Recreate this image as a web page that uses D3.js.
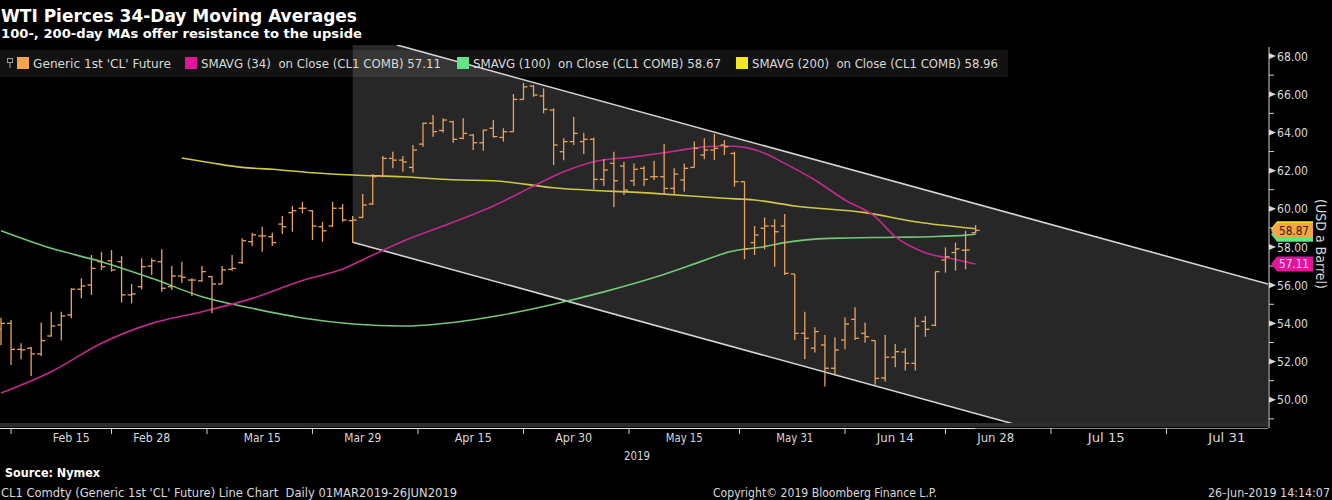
<!DOCTYPE html>
<html>
<head lang="en">
	<meta charset="UTF-8">
	<title>WTI Pierces 34-Day Moving Averages</title>
	<script src="https://d3js.org/d3.v7.min.js"></script>
	<style>
		body { margin: 0; background: #000; }
		svg text { font-family: "Liberation Sans Narrow", "DejaVu Sans Condensed", "Liberation Sans", sans-serif; white-space: pre; }
	</style>
</head>
<body>

<script>

	// trading days on the axis (exchange holidays dropped up to the last bar)
	var firstDay = "2019-02-06";
	var lastDay = "2019-08-06";
	var holidays = ["2019-02-18", "2019-04-19", "2019-05-27"];

	// CL1 daily bars, 06 Feb .. 26 Jun 2019
	var open = [53.70, 54.00, 52.64, 52.70, 52.40, 53.34, 53.92, 54.44, 55.79, 56.01,
		57.23, 57.28, 57.23, 55.49, 55.92, 57.00, 57.23, 55.92, 56.48, 56.27,
		56.23, 56.45, 56.06, 56.83, 57.18, 58.28, 58.58, 58.54, 59.20, 59.80,
		60.03, 59.90, 59.06, 59.10, 60.03, 59.38, 59.55, 60.25, 61.72, 62.64,
		62.55, 62.17, 63.39, 64.48, 64.10, 64.56, 63.69, 63.86, 63.46, 64.22,
		63.74, 64.04, 65.73, 66.43, 65.91, 65.17, 62.99, 63.52, 63.52, 63.64,
		61.54, 62.38, 62.24, 61.47, 62.12, 61.68, 61.68, 61.07, 61.51, 62.17,
		62.82, 63.08, 63.34, 62.90, 61.42, 58.23, 58.98, 59.10, 59.10, 56.59,
		53.48, 52.70, 52.87, 51.65, 53.13, 54.21, 53.48, 53.10, 51.14, 52.23,
		52.50, 51.91, 54.10, 53.90, 57.32, 57.71, 57.83, 58.75];
	var high = [54.30, 54.18, 52.96, 52.78, 54.04, 54.61, 54.61, 55.84, 56.36, 57.58,
		57.75, 57.84, 57.53, 56.06, 57.41, 57.41, 57.88, 57.00, 57.23, 56.36,
		57.00, 56.48, 57.00, 57.58, 58.46, 58.75, 59.06, 58.75, 59.62, 60.15,
		60.37, 59.94, 59.32, 60.37, 60.25, 59.62, 60.77, 61.82, 62.76, 62.99,
		62.76, 63.34, 64.51, 64.91, 64.74, 64.61, 64.74, 63.92, 64.16, 64.65,
		64.22, 66.01, 66.60, 66.48, 66.31, 65.26, 63.69, 64.82, 63.99, 63.74,
		62.59, 62.99, 62.47, 62.38, 62.24, 62.52, 63.39, 62.12, 62.38, 63.52,
		63.69, 63.92, 63.60, 62.99, 61.42, 59.10, 59.55, 59.45, 59.73, 56.59,
		54.61, 53.80, 53.39, 53.27, 54.32, 54.84, 54.04, 53.10, 53.39, 52.92,
		52.70, 54.32, 54.39, 56.71, 57.98, 58.23, 58.85, 59.15];
	var low = [52.87, 51.82, 52.12, 51.25, 52.29, 53.30, 53.10, 54.27, 55.31, 55.49,
		56.80, 56.71, 55.09, 55.05, 55.79, 56.54, 55.66, 55.75, 56.13, 55.43,
		56.18, 54.53, 56.06, 56.76, 57.11, 58.05, 57.75, 58.05, 58.68, 58.80,
		59.76, 58.37, 58.28, 59.06, 59.32, 58.22, 59.50, 60.20, 61.65, 62.12,
		61.94, 61.89, 63.25, 63.78, 64.00, 63.46, 63.64, 63.08, 63.04, 63.74,
		63.52, 64.04, 65.70, 65.87, 65.00, 62.29, 62.55, 63.34, 62.87, 61.02,
		61.19, 60.08, 60.72, 61.19, 61.19, 61.51, 60.72, 60.72, 60.90, 62.17,
		62.59, 62.55, 62.82, 61.16, 57.36, 57.58, 57.88, 56.97, 56.53, 53.13,
		52.12, 52.47, 50.69, 51.25, 52.64, 53.13, 52.99, 50.78, 50.95, 51.70,
		51.53, 51.53, 53.30, 53.85, 56.66, 56.76, 56.83, 58.70];
	var close = [54.00, 52.64, 52.61, 52.40, 53.10, 53.86, 54.39, 55.79, 55.96, 56.88,
		56.97, 56.80, 55.49, 55.54, 56.97, 57.28, 55.84, 56.48, 56.41, 56.27,
		56.71, 56.06, 56.80, 56.88, 58.33, 58.64, 58.58, 58.23, 59.06, 59.90,
		60.03, 59.10, 58.85, 60.03, 59.41, 59.41, 60.20, 61.68, 62.64, 62.55,
		62.45, 63.08, 64.48, 64.04, 64.65, 63.64, 63.95, 63.46, 64.12, 63.78,
		64.04, 65.73, 66.39, 65.96, 65.21, 63.34, 63.52, 63.95, 63.64, 61.54,
		62.03, 61.47, 60.98, 62.07, 61.54, 61.68, 61.07, 61.82, 62.12, 63.17,
		63.08, 63.17, 63.25, 61.42, 57.91, 58.63, 59.10, 58.80, 56.62, 53.48,
		53.22, 53.57, 51.65, 52.61, 53.97, 53.22, 53.30, 51.12, 52.23, 52.52,
		51.91, 53.86, 53.69, 56.71, 57.49, 57.90, 57.84, 58.87];

	// moving averages read at [bar index, price]
	var ma34 = [[0, 50.35], [5, 51.47], [10, 52.96], [15, 54.00], [20, 54.61], [25, 55.31],
		[30, 56.25], [34, 56.85], [37, 57.58], [40, 58.30], [44, 59.10], [49, 60.15],
		[53, 61.19], [56, 61.94], [59, 62.47], [63, 62.72], [66, 62.94], [68, 63.10],
		[70, 63.25], [72, 63.29], [74, 63.22], [76, 62.91], [78, 62.38], [81, 61.51],
		[84, 60.46], [87, 59.59], [89, 58.54], [92, 57.70], [95, 57.35], [97, 57.11]];
	var ma100 = [[0, 58.85], [5, 57.93], [10, 57.23], [15, 56.36], [20, 55.40], [25, 54.79],
		[30, 54.28], [35, 53.97], [40, 53.86], [45, 54.05], [50, 54.45], [55, 55.00],
		[60, 55.65], [65, 56.40], [70, 57.30], [72.5, 57.75], [76, 58.02], [78, 58.23],
		[82.5, 58.45], [89, 58.51], [92.5, 58.54], [96, 58.62], [97, 58.67]];
	var ma200 = [[18, 62.66], [21, 62.40], [24, 62.17], [27, 62.07], [31, 61.89], [35, 61.77],
		[40, 61.68], [45, 61.52], [49, 61.47], [55, 61.10], [65, 60.81], [72, 60.55],
		[75, 60.46], [79, 60.15], [86, 59.80], [91, 59.32], [97, 58.96]];

	// trend channel, [bar index, price]
	var channelUpper = [[39.4, 68.58], [126.1, 56.06]];
	var channelLower = [[35.0, 58.25], [100.8, 48.73]];

	var priceTicks = [50, 52, 54, 56, 58, 60, 62, 64, 66, 68];
	var dateTicks = ["2019-02-15", "2019-02-28", "2019-03-15", "2019-03-29", "2019-04-15", "2019-04-30",
		"2019-05-15", "2019-05-31", "2019-06-14", "2019-06-28", "2019-07-15", "2019-07-31"];
	var dateLabels = ["Feb 15", "Feb 28", "Mar 15", "Mar 29", "Apr 15", "Apr 30",
		"May 15", "May 31", "Jun 14", "Jun 28", "Jul 15", "Jul 31"];


	var W = 1332, H = 500;
	var plot = {left: 0, right: 1268, top: 45, bottom: 424};

	var COLORS = {
		bar: "#e8a35f",
		ma34: "#c02a8c",
		ma100: "#74c779",
		ma200: "#cfc64a",
		sq: ["#f7a348", "#e3149c", "#62e38c", "#f3e52a"],
		text: "#d9d9d9"
	};

	var fmtDay = d3.timeFormat("%Y-%m-%d"), parseDay = d3.timeParse("%Y-%m-%d");
	var days = d3.timeDay.range(parseDay(firstDay), d3.timeDay.offset(parseDay(lastDay), 1))
			.filter(function (d) { return d.getDay() > 0 && d.getDay() < 6; })
			.filter(function (d) { return holidays.indexOf(fmtDay(d)) < 0; });
	var dayIndex = {};
	days.forEach(function (d, i) { dayIndex[fmtDay(d)] = i; });

	var x = d3.scaleLinear().domain([-0.1, 126.1]).range([plot.left, plot.right]);
	var y = d3.scaleLinear().domain([48.73, 68.58]).range([plot.bottom, plot.top]);

	var svg = d3.select("body").append("svg")
			.attr("width", W).attr("height", H)
			.style("display", "block")
			.style("background", "#000");

	// fit condensed text to a width
	function fit(sel, w) {
		return sel.attr("textLength", w).attr("lengthAdjust", "spacingAndGlyphs");
	}

	svg.append("clipPath").attr("id", "plotClip")
			.append("rect")
			.attr("x", plot.left).attr("y", plot.top)
			.attr("width", plot.right - plot.left).attr("height", plot.bottom - plot.top);

	var g = svg.append("g").attr("clip-path", "url(#plotClip)");

	// channel shading
	var yTop = y.domain()[1], yBot = y.domain()[0];
	var poly = [
		[channelLower[0][0], yTop],
		channelUpper[0],
		channelUpper[1],
		[channelUpper[1][0], yBot],
		channelLower[1],
		channelLower[0]
	];
	g.append("path")
			.attr("d", "M" + poly.map(function (p) { return x(p[0]) + "," + y(p[1]); }).join("L") + "Z")
			.attr("fill", "#272727");

	[channelUpper, channelLower].forEach(function (c) {
		g.append("line")
				.attr("x1", x(c[0][0])).attr("y1", y(c[0][1]))
				.attr("x2", x(c[1][0])).attr("y2", y(c[1][1]))
				.attr("stroke", "#d4d4d4").attr("stroke-width", 1.6);
	});

	// moving averages
	var maLine = d3.line()
			.x(function (d) { return x(d[0]); })
			.y(function (d) { return y(d[1]); })
			.curve(d3.curveMonotoneX);

	[[ma100, COLORS.ma100], [ma200, COLORS.ma200], [ma34, COLORS.ma34]].forEach(function (m) {
		g.append("path")
				.attr("d", maLine(m[0]))
				.attr("fill", "none")
				.attr("stroke", m[1])
				.attr("stroke-width", 1.6);
	});

	// OHLC bars
	var bars = g.append("g").attr("stroke", COLORS.bar).attr("stroke-width", 1.3);
	close.forEach(function (c, i) {
		var cx = x(i);
		bars.append("line").attr("x1", cx).attr("x2", cx).attr("y1", y(high[i])).attr("y2", y(low[i]));
		bars.append("line").attr("x1", cx - 4).attr("x2", cx).attr("y1", y(open[i])).attr("y2", y(open[i]));
		bars.append("line").attr("x1", cx).attr("x2", cx + 4).attr("y1", y(c)).attr("y2", y(c));
	});

	// bottom band + date axis
	svg.append("rect")
			.attr("x", plot.left).attr("y", plot.bottom - 1)
			.attr("width", plot.right - plot.left).attr("height", 4)
			.attr("fill", "#2c2c2c");
	var lastX = x(close.length - 1);
	svg.append("line").attr("x1", plot.left).attr("x2", lastX).attr("y1", 428.5).attr("y2", 428.5)
			.attr("stroke", "#e6e6e6").attr("stroke-width", 1.2);
	svg.append("line").attr("x1", lastX).attr("x2", plot.right).attr("y1", 428.5).attr("y2", 428.5)
			.attr("stroke", "#8a8a8a").attr("stroke-width", 1.2);

	var tickIdx = dateTicks.map(function (d) { return dayIndex[d]; });
	var midIdx = [];
	for (var k = 0; k < tickIdx.length - 1; k++) {
		midIdx.push((tickIdx[k] + tickIdx[k + 1]) / 2);
	}
	midIdx.unshift(tickIdx[0] - (tickIdx[1] - tickIdx[0]) / 2 - 2);
	svg.selectAll(".xtick").data(midIdx).enter().append("line")
			.attr("x1", function (d) { return x(d); }).attr("x2", function (d) { return x(d); })
			.attr("y1", 428).attr("y2", 434)
			.attr("stroke", "#cfcfcf").attr("stroke-width", 1);

	svg.selectAll(".xlab").data(dateLabels).enter().append("text")
			.attr("x", function (d, i) { return x(tickIdx[i]); })
			.attr("y", 442)
			.attr("text-anchor", "middle")
			.attr("font-size", 12)
			.attr("fill", COLORS.text)
			.text(function (d) { return d; })
			.each(function () { fit(d3.select(this), 37); });

	fit(svg.append("text").attr("x", 637).attr("y", 460).attr("text-anchor", "middle")
			.attr("font-size", 12).attr("fill", COLORS.text).text("2019"), 26);

	// right price axis
	svg.append("line").attr("x1", plot.right + 1).attr("x2", plot.right + 1)
			.attr("y1", plot.top + 2).attr("y2", 428)
			.attr("stroke", "#d0d0d0").attr("stroke-width", 1);

	priceTicks.forEach(function (p) {
		var ty = y(p);
		svg.append("path")
				.attr("d", "M" + (plot.right + 1) + "," + (ty - 3) + "L" + (plot.right + 8) + "," + ty + "L" + (plot.right + 1) + "," + (ty + 3) + "Z")
				.attr("fill", "#d8d8d8");
		fit(svg.append("text")
				.attr("x", plot.right + 9).attr("y", ty + 4.5)
				.attr("font-size", 12).attr("fill", COLORS.text)
				.text(d3.format(".2f")(p)), 31);
		if (p > 49) {
			svg.append("line").attr("x1", plot.right + 1).attr("x2", plot.right + 6)
					.attr("y1", y(p - 1)).attr("y2", y(p - 1))
					.attr("stroke", "#d0d0d0");
		}
	});

	svg.append("text")
			.attr("transform", "translate(1316,244) rotate(90)")
			.attr("text-anchor", "middle")
			.attr("font-family", "Liberation Sans, sans-serif")
			.attr("font-size", 14)
			.attr("fill", COLORS.text)
			.text("(USD a Barrel)");

	// last-value tags
	function tag(val, fill, txtColor) {
		var ty = y(val), l = plot.right + 3, r = plot.right + 45;
		svg.append("path")
				.attr("d", "M" + l + "," + ty + "L" + (l + 6) + "," + (ty - 7.5) + "L" + r + "," + (ty - 7.5) +
						"L" + r + "," + (ty + 7.5) + "L" + (l + 6) + "," + (ty + 7.5) + "Z")
				.attr("fill", fill);
		if (txtColor) {
			fit(svg.append("text")
					.attr("x", l + 8).attr("y", ty + 4.5)
					.attr("font-size", 12).attr("fill", txtColor)
					.text(d3.format(".2f")(val)), 30);
		}
	}
	var last34 = ma34[ma34.length - 1][1], last100 = ma100[ma100.length - 1][1], last200 = ma200[ma200.length - 1][1];
	tag(last100, COLORS.sq[2]);
	tag(last200, COLORS.sq[3]);
	tag(close[close.length - 1], COLORS.sq[0], "#3a2000");
	tag(last34, COLORS.sq[1], "#ffd6f0");

	// legend
	svg.append("rect").attr("x", 0).attr("y", 50).attr("width", 1008).attr("height", 27)
			.attr("fill", "rgba(255,255,255,0.07)");
	svg.append("rect").attr("x", 7.5).attr("y", 58.5).attr("width", 5).attr("height", 4)
			.attr("fill", "none").attr("stroke", "#9a9a9a");
	svg.append("line").attr("x1", 10).attr("x2", 10).attr("y1", 62.5).attr("y2", 68)
			.attr("stroke", "#9a9a9a");

	var fmt2 = d3.format(".2f");
	var legend = [
		{label: "Generic 1st 'CL' Future", sq: 17, tx: 33, w: 138},
		{label: "SMAVG (34)  on Close (CL1 COMB) " + fmt2(last34), sq: 185, tx: 201, w: 240},
		{label: "SMAVG (100)  on Close (CL1 COMB) " + fmt2(last100), sq: 457, tx: 473, w: 248},
		{label: "SMAVG (200)  on Close (CL1 COMB) " + fmt2(last200), sq: 736, tx: 752, w: 246}
	];
	legend.forEach(function (it, i) {
		svg.append("rect").attr("x", it.sq).attr("y", 57).attr("width", 12).attr("height", 12)
				.attr("fill", COLORS.sq[i]);
		fit(svg.append("text").attr("x", it.tx).attr("y", 68)
				.attr("font-size", 12.5).attr("fill", COLORS.text)
				.text(it.label), it.w);
	});

	// titles
	fit(svg.append("text").attr("x", 1).attr("y", 22)
			.attr("font-family", "DejaVu Sans, sans-serif").attr("font-weight", "bold")
			.attr("font-size", 17).attr("fill", "#fff")
			.text("WTI Pierces 34-Day Moving Averages"), 356);
	fit(svg.append("text").attr("x", 1).attr("y", 38)
			.attr("font-family", "DejaVu Sans, sans-serif").attr("font-weight", "bold")
			.attr("font-size", 13).attr("fill", "#fff")
			.text("100-, 200-day MAs offer resistance to the upside"), 361);

	// footer
	fit(svg.append("text").attr("x", 5).attr("y", 477)
			.attr("font-family", "DejaVu Sans, sans-serif").attr("font-weight", "bold")
			.attr("font-size", 12).attr("fill", "#fff")
			.text("Source: Nymex"), 95);
	fit(svg.append("text").attr("x", 1).attr("y", 497)
			.attr("font-size", 12).attr("fill", COLORS.text)
			.text("CL1 Comdty (Generic 1st 'CL' Future) Line Chart  Daily 01MAR2019-26JUN2019"), 456);
	fit(svg.append("text").attr("x", 713).attr("y", 497)
			.attr("font-size", 12).attr("fill", COLORS.text)
			.text("Copyright\u00a9 2019 Bloomberg Finance L.P."), 224);
	fit(svg.append("text").attr("x", 1330).attr("y", 497).attr("text-anchor", "end")
			.attr("font-size", 12).attr("fill", COLORS.text)
			.text("26-Jun-2019 14:14:07"), 122);

</script>

</body>
</html>
